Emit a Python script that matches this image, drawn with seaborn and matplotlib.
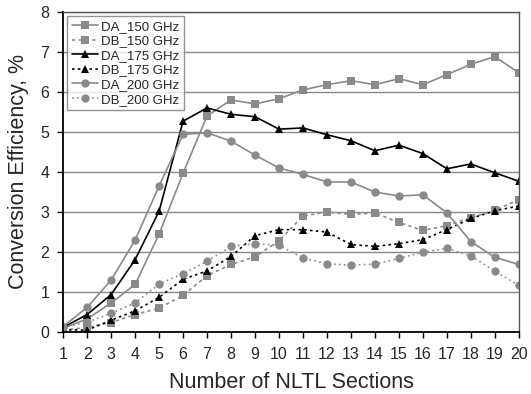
import numpy as np
import pandas as pd
import matplotlib
matplotlib.use('Agg')
import matplotlib.pyplot as plt
import seaborn as sns

sections = list(range(1, 21))

da_150 = [0.10, 0.33, 0.73, 1.19, 2.45, 3.97, 5.40, 5.80, 5.70, 5.83, 6.05, 6.18, 6.28, 6.18, 6.33, 6.18, 6.43, 6.69, 6.88, 6.48]
db_150 = [0.05, 0.12, 0.24, 0.44, 0.60, 0.92, 1.41, 1.69, 1.88, 2.28, 2.90, 3.00, 2.94, 2.98, 2.74, 2.54, 2.66, 2.86, 3.04, 3.31]
da_175 = [0.12, 0.44, 0.94, 1.81, 3.02, 5.27, 5.60, 5.44, 5.38, 5.07, 5.10, 4.93, 4.78, 4.53, 4.67, 4.46, 4.08, 4.20, 3.98, 3.77]
db_175 = [0.06, 0.05, 0.30, 0.53, 0.87, 1.32, 1.53, 1.89, 2.41, 2.56, 2.56, 2.50, 2.19, 2.14, 2.21, 2.31, 2.56, 2.84, 3.03, 3.15]
da_200 = [0.14, 0.62, 1.30, 2.30, 3.65, 4.94, 4.98, 4.77, 4.42, 4.10, 3.94, 3.75, 3.75, 3.50, 3.40, 3.43, 2.98, 2.26, 1.87, 1.69]
db_200 = [0.12, 0.25, 0.47, 0.73, 1.20, 1.46, 1.77, 2.14, 2.21, 2.17, 1.85, 1.71, 1.67, 1.70, 1.84, 2.00, 2.09, 1.91, 1.52, 1.17]

series_names = ['DA_150 GHz', 'DB_150 GHz', 'DA_175 GHz', 'DB_175 GHz', 'DA_200 GHz', 'DB_200 GHz']
series_values = [da_150, db_150, da_175, db_175, da_200, db_200]

gray = '#8a8a8a'
styles = {
    'DA_150 GHz': dict(color=gray, ls='-', marker='s'),
    'DB_150 GHz': dict(color=gray, ls=(0, (2, 2)), marker='s'),
    'DA_175 GHz': dict(color='black', ls='-', marker='^'),
    'DB_175 GHz': dict(color='black', ls=(0, (1.5, 2)), marker='^'),
    'DA_200 GHz': dict(color=gray, ls='-', marker='o'),
    'DB_200 GHz': dict(color=gray, ls=(0, (1, 2)), marker='o'),
}

df = pd.DataFrame({
    'sections': sections * len(series_names),
    'eff': np.concatenate(series_values),
    'series': np.repeat(series_names, len(sections)),
})

sns.set_style('white')
plt.rcParams['font.family'] = ['Liberation Sans', 'DejaVu Sans']

fig = plt.figure(figsize=(5.31, 3.94), dpi=100)
ax = fig.add_axes([0.119, 0.157, 0.858, 0.813])

for name in series_names:
    st = styles[name]
    sub = df[df['series'] == name]
    sns.lineplot(data=sub, x='sections', y='eff', ax=ax, color=st['color'],
                 linestyle=st['ls'], marker=st['marker'], markersize=6,
                 markeredgewidth=0, linewidth=1.2, label=name)

ax.set_xlim(1, 20)
ax.set_ylim(0, 8)
ax.set_xticks(sections)
ax.set_yticks(range(0, 9))
ax.yaxis.grid(True, color='#888888', linewidth=1)
ax.set_axisbelow(True)
ax.tick_params(axis='both', labelsize=11.5, direction='out', length=4, width=1,
               color='black', bottom=True, left=True)
ax.tick_params(axis='x', pad=7)
ax.tick_params(axis='y', pad=6)
ax.set_xlabel('Number of NLTL Sections', fontsize=15.5, labelpad=7)
ax.set_ylabel('Conversion Efficiency, %', fontsize=15.5, labelpad=8)

for side in ['left', 'bottom']:
    ax.spines[side].set_color('black')
    ax.spines[side].set_linewidth(1.3)
for side in ['top', 'right']:
    ax.spines[side].set_color('#555555')
    ax.spines[side].set_linewidth(1)

leg = ax.legend(loc='upper left', fontsize=9.5, frameon=True, fancybox=False,
                borderaxespad=0.3, handlelength=2.0, handletextpad=0.25,
                labelspacing=0.18, borderpad=0.35)
leg.get_frame().set_edgecolor('#777777')
leg.get_frame().set_linewidth(1)

fig.savefig('out.png', dpi=100)
